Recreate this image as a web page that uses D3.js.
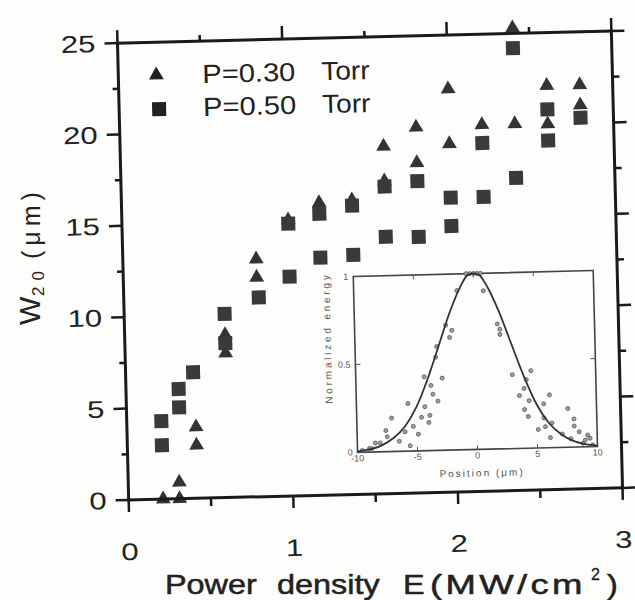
<!DOCTYPE html>
<html lang="en">
<head>
<meta charset="UTF-8">
<title>W20 vs power density</title>
<script src="https://cdn.jsdelivr.net/npm/d3@7"></script>
<style>
    body { margin: 0; background: #fff; }
</style>
</head>
<body>
<div id="chart"></div>
<script>
    // P = 0.30 Torr (triangles)
    const triX = [0.21, 0.31, 0.31, 0.42, 0.42, 0.61, 0.61, 0.81, 0.81, 1.01, 1.20, 1.40, 1.60, 1.60, 1.80, 1.80, 2.00, 2.00, 2.20, 2.40, 2.40, 2.60, 2.60, 2.80, 2.80];
    const triY = [0, 0, 0.9, 3.9, 2.9, 8.9, 7.9, 13.0, 12.0, 15.1, 16.0, 16.1, 19.0, 17.1, 20.0, 18.05, 22.05, 19.05, 20.05, 20.05, 25.3, 22.1, 20.0, 22.1, 21.0];

    // P = 0.50 Torr (squares)
    const sqX = [0.21, 0.21, 0.32, 0.32, 0.41, 0.61, 0.61, 0.82, 1.01, 1.01, 1.20, 1.20, 1.40, 1.40, 1.60, 1.60, 1.80, 1.80, 2.00, 2.00, 2.20, 2.20, 2.40, 2.40, 2.60, 2.60, 2.80];
    const sqY = [4.27, 2.95, 6.0, 5.0, 6.9, 10.05, 8.45, 10.9, 14.9, 12.0, 15.4, 13.0, 15.8, 13.1, 16.8, 14.05, 17.05, 14.0, 16.1, 14.55, 19.05, 16.1, 17.1, 24.2, 20.8, 19.1, 20.3];

    // inset: beam profile, fitted curve and measured dots
    const profX = [-10, -9, -8, -7, -6, -5, -4, -3, -2, -1, -0.5, 0, 0.5, 1, 2, 3, 4, 5, 6, 7, 8, 9, 10];
    const profY = [0.005, 0.015, 0.035, 0.075, 0.14, 0.25, 0.41, 0.6, 0.79, 0.94, 0.99, 1.0, 0.99, 0.94, 0.79, 0.6, 0.41, 0.25, 0.14, 0.075, 0.035, 0.015, 0.005];
    const dotX = [-1.4, 0.8, -2.4, -1.9, -2.1, 1.9, 2.1, 2.1, -3.3, -3.2, -4.3, -3.75, -2.8, -3.6, -3.2, -4.3, -3.9, -4.0, -5.7, -4.6, -5.3, -4.9, -5.6, -7.1, -7.6, -7.5, -8.5, -8.1, -9.0, -6.5, -6.0,
                  3.05, 4.6, 4.2, 4.0, 3.6, 4.4, 4.0, 4.3, 6.1, 5.6, 5.6, 5.1, 5.7, 6.25, 6.1, 7.6, 8.1, 8.1, 8.5, 9.2, 7.1, 7.8, 9.0, 9.4,
                  -0.6, -0.3, 0, 0.3, 0.6, -9.6, 9.6, -8.8, 8.8];
    const dotY = [0.905, 0.9, 0.71, 0.68, 0.64, 0.71, 0.68, 0.65, 0.53, 0.59, 0.42, 0.37, 0.41, 0.32, 0.28, 0.25, 0.2, 0.16, 0.27, 0.19, 0.14, 0.095, 0.03, 0.19, 0.12, 0.085, 0.05, 0.05, 0.02, 0.057, 0.11,
                  0.42, 0.44, 0.39, 0.34, 0.3, 0.27, 0.22, 0.18, 0.3, 0.25, 0.17, 0.105, 0.12, 0.14, 0.057, 0.22, 0.16, 0.12, 0.086, 0.067, 0.076, 0.048, 0.038, 0.048,
                  1.0, 1.0, 1.0, 1.0, 1.0, 0.01, 0.01, 0.02, 0.02];

    const xMajor = [0, 1, 2, 3];
    const xMinor = [0.5, 1.5, 2.5];
    const yMajor = [0, 5, 10, 15, 20, 25];
    const yMinor = [2.5, 7.5, 12.5, 17.5, 22.5];
    const insetXTicks = [-10, -5, 0, 5, 10];
    const insetYTicks = [0, 0.5, 1];

    const ink = "#222";

    const svg = d3.select("#chart")
        .append("svg")
        .attr("width", 635)
        .attr("height", 600)
        .attr("font-family", "Liberation Sans, Arial, sans-serif");

    svg.append("rect").attr("width", 635).attr("height", 600).attr("fill", "#fdfdfb");

    // the scanned figure is slightly tilted
    const tilt = -1.4, cx = 370, cy = 265;
    const g = svg.append("g").attr("transform", `rotate(${tilt} ${cx} ${cy})`);
    const cosT = Math.cos(tilt * Math.PI / 180), sinT = Math.sin(tilt * Math.PI / 180);
    function tilted(px, py) {
        const dx = px - cx, dy = py - cy;
        return [cx + dx * cosT - dy * sinT, cy + dx * sinT + dy * cosT];
    }

    const x = d3.scaleLinear().domain([0, 3]).range([123, 617]);
    const y = d3.scaleLinear().domain([0, 25]).range([494, 37]);

    // inset
    const ix = d3.scaleLinear().domain([-10, 10]).range([353, 593]);
    const iy = d3.scaleLinear().domain([0, 1]).range([452, 276]);

    const inset = g.append("g");
    inset.append("rect")
        .attr("x", ix(-10)).attr("y", iy(1))
        .attr("width", ix(10) - ix(-10)).attr("height", iy(0) - iy(1))
        .attr("fill", "#fdfdfb").attr("stroke", "#444").attr("stroke-width", 1.6);

    [-5, 0, 5].forEach(v => {
        inset.append("line").attr("x1", ix(v)).attr("x2", ix(v)).attr("y1", iy(1)).attr("y2", iy(1) + 4)
            .attr("stroke", "#555").attr("stroke-width", 1);
        inset.append("line").attr("x1", ix(v)).attr("x2", ix(v)).attr("y1", iy(0)).attr("y2", iy(0) - 4)
            .attr("stroke", "#555").attr("stroke-width", 1);
    });
    inset.append("line").attr("x1", ix(-10)).attr("x2", ix(-10) + 5).attr("y1", iy(0.5)).attr("y2", iy(0.5))
        .attr("stroke", "#555").attr("stroke-width", 1);
    inset.append("line").attr("x1", ix(10)).attr("x2", ix(10) - 5).attr("y1", iy(0.5)).attr("y2", iy(0.5))
        .attr("stroke", "#555").attr("stroke-width", 1);

    inset.selectAll(".ixl")
        .data(insetXTicks)
        .enter().append("text")
        .attr("x", d => ix(d))
        .attr("y", iy(0) + 9)
        .attr("text-anchor", "middle")
        .attr("font-size", 9)
        .attr("fill", "#555")
        .text(d => d);

    inset.selectAll(".iyl")
        .data(insetYTicks)
        .enter().append("text")
        .attr("x", ix(-10) - 5)
        .attr("y", d => iy(d) + 3)
        .attr("text-anchor", "end")
        .attr("font-size", 9)
        .attr("fill", "#555")
        .text(d => d);

    inset.append("text")
        .attr("x", 477).attr("y", 479)
        .attr("text-anchor", "middle")
        .attr("font-size", 10)
        .attr("letter-spacing", 2)
        .attr("fill", "#555")
        .text("Position (μm)");

    inset.append("text")
        .attr("transform", "translate(329,337) rotate(-90)")
        .attr("text-anchor", "middle")
        .attr("font-size", 10)
        .attr("letter-spacing", 2.8)
        .attr("fill", "#555")
        .text("Normalized energy");

    inset.selectAll(".dot")
        .data(d3.zip(dotX, dotY))
        .enter().append("circle")
        .attr("cx", d => ix(d[0]))
        .attr("cy", d => iy(d[1]))
        .attr("r", 2)
        .attr("fill", "#a0a0a0")
        .attr("stroke", "#555")
        .attr("stroke-width", 0.8);

    const profLine = d3.line()
        .x(d => ix(d[0]))
        .y(d => iy(d[1]))
        .curve(d3.curveMonotoneX);

    inset.append("path")
        .datum(d3.zip(profX, profY))
        .attr("d", profLine)
        .attr("fill", "none")
        .attr("stroke", "#333")
        .attr("stroke-width", 1.8);

    // markers
    const triPath = d3.symbol(d3.symbolTriangle).size(95)();
    const sqPath = d3.symbol(d3.symbolSquare).size(196)();

    g.append("g")
        .selectAll("path")
        .data(d3.zip(triX, triY))
        .enter().append("path")
        .attr("d", triPath)
        .attr("transform", d => `translate(${x(d[0])},${y(d[1])})`)
        .attr("fill", "#333");

    g.append("g")
        .selectAll("path")
        .data(d3.zip(sqX, sqY))
        .enter().append("path")
        .attr("d", sqPath)
        .attr("transform", d => `translate(${x(d[0])},${y(d[1])})`)
        .attr("fill", "#3a3a3a");

    // tick labels
    const labels = g.append("g").attr("fill", ink);
    labels.selectAll(".xl")
        .data(xMajor)
        .enter().append("text")
        .attr("transform", d => `translate(${x(d)},554) scale(1.3,1)`)
        .attr("text-anchor", "middle")
        .attr("font-size", 24)
        .text(d => d);

    labels.selectAll(".yl")
        .data(yMajor)
        .enter().append("text")
        .attr("transform", d => `translate(${x(0) - 22},${y(d) + 8.5}) scale(1.3,1)`)
        .attr("text-anchor", "end")
        .attr("font-size", 24)
        .text(d => d);

    // legend
    const legend = g.append("g").attr("fill", ink);
    legend.append("path").attr("d", triPath).attr("transform", "translate(161,70)");
    legend.append("path").attr("d", sqPath).attr("transform", "translate(163,104)");
    [["P=0.30", 79], ["P=0.50", 112]].forEach(([t, by]) => {
        legend.append("text").attr("transform", `translate(207,${by}) scale(1.12,1)`)
            .attr("font-size", 26).text(t);
        legend.append("text").attr("transform", `translate(326,${by}) scale(1.08,1)`)
            .attr("font-size", 26).text("Torr");
    });

    // frame and ticks: drawn at the top level, endpoints tilted by hand
    const axisSegs = [];
    axisSegs.push([x(0) - 1.5, y(0), x(3) + 1.5, y(0), 3]);
    axisSegs.push([x(0) - 1.5, y(25), x(3) + 1.5, y(25), 3]);
    axisSegs.push([x(0), y(0), x(0), y(25), 3]);
    axisSegs.push([x(3), y(0), x(3), y(25), 3]);
    xMajor.forEach(v => {
        axisSegs.push([x(v), y(0), x(v), y(0) + 12, 2.5]);
        axisSegs.push([x(v), y(25), x(v), y(25) - 13, 2.5]);
    });
    xMinor.forEach(v => {
        axisSegs.push([x(v), y(0), x(v), y(0) + 8, 2.5]);
        axisSegs.push([x(v), y(25), x(v), y(25) - 6, 2.5]);
    });
    yMajor.forEach(v => {
        axisSegs.push([x(0), y(v), x(0) - 13, y(v), 2.5]);
        axisSegs.push([x(3), y(v), x(3) + 13, y(v), 2.5]);
    });
    yMinor.forEach(v => {
        axisSegs.push([x(0), y(v), x(0) - 6, y(v), 2.5]);
        axisSegs.push([x(3), y(v), x(3) + 7, y(v), 2.5]);
    });

    svg.append("g")
        .selectAll("line")
        .data(axisSegs)
        .enter().append("line")
        .attr("x1", d => tilted(d[0], d[1])[0])
        .attr("y1", d => tilted(d[0], d[1])[1])
        .attr("x2", d => tilted(d[2], d[3])[0])
        .attr("y2", d => tilted(d[2], d[3])[1])
        .attr("stroke", "#1a1a1a")
        .attr("stroke-width", d => d[4])
        .attr("stroke-linecap", "butt");

    // x title (not tilted in the scan)
    const xt = svg.append("g").attr("fill", ink).attr("stroke", ink).attr("stroke-width", 0.5).attr("font-size", 27);
    [["Power", 165, 1.2, 0], ["density", 277, 1.2, 0], ["E", 403, 1.2, 0], ["(MW/cm", 430, 1.35, 2.5], [")", 607, 1.2, 0]].forEach(([t, px, sx, ls]) => {
        xt.append("text").attr("transform", `translate(${px},594) scale(${sx},1)`)
            .attr("letter-spacing", ls).text(t);
    });
    xt.append("text").attr("x", 591).attr("y", 580).attr("font-size", 16).attr("stroke-width", 0.3).text("2");

    // y title
    const yt = svg.append("g").attr("fill", ink);
    yt.append("text").attr("transform", "translate(40,325) rotate(-90)")
        .attr("font-size", 30).text("W");
    yt.append("text").attr("transform", "translate(44,296) rotate(-90)")
        .attr("font-size", 17).attr("letter-spacing", 6).text("20");
    yt.append("text").attr("transform", "translate(40,259) rotate(-90)")
        .attr("font-size", 25).attr("letter-spacing", 5).text("(μm)");
</script>
</body>
</html>
